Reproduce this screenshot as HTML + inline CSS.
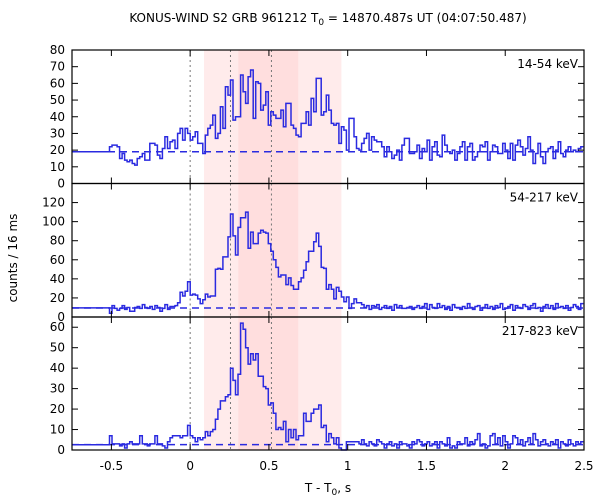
<!DOCTYPE html>
<html><head><meta charset="utf-8"><style>
body{margin:0;background:#fff}
svg{display:block;font-family:"DejaVu Sans","Liberation Sans",sans-serif;font-size:12px}
</style></head><body>
<svg id="chart" width="600" height="500"></svg>
<script>
const binStart = -0.512;
const binWidth = 0.016;
const xTicks = [-0.5, 0, 0.5, 1, 1.5, 2, 2.5];
const xTickLabels = ["-0.5", "0", "0.5", "1", "1.5", "2", "2.5"];
const bandsLight = [0.088, 0.96];
const bandsDark = [0.306, 0.686];
const markerTimes = [0, 0.256, 0.516];
const panelLabels = ["14-54 keV", "54-217 keV", "217-823 keV"];
const yMaxes = [80, 140, 65];
const yTicks1 = [0,10,20,30,40,50,60,70,80];
const yTicks2 = [0,20,40,60,80,100,120];
const yTicks3 = [0,10,20,30,40,50,60];
const backgrounds = [19, 9.5, 2.6];
const counts1 = [22,23,23,22,15,18,14,13,14,12,
11,15,16,18,14,14,24,24,23,17,
15,21,28,21,25,26,21,30,33,26,
33,30,26,28,31,24,24,18,29,33,
35,41,27,30,46,33,58,53,62,38,
40,40,65,55,48,64,68,39,61,60,
44,47,55,35,43,41,39,39,44,34,
48,48,35,33,29,28,36,36,43,35,
51,43,63,63,41,43,53,44,36,35,
36,24,34,32,20,39,39,28,21,20,
24,27,30,20,28,26,25,25,22,16,
22,19,15,17,20,14,23,27,27,18,
18,19,23,15,21,19,26,14,22,25,
17,16,29,23,19,18,20,14,18,22,
25,14,22,24,14,16,19,23,22,25,
14,19,23,22,18,18,24,20,15,24,
14,23,26,22,17,21,28,20,12,18,
24,16,12,19,21,22,15,20,25,18,
16,20,22,19,20,19,21,22];
const counts2 = [4,12,9,7,9,12,8,10,6,6,
10,11,9,13,10,9,11,8,12,10,
6,9,13,8,11,11,12,15,26,22,27,37,
23,24,23,19,14,18,24,21,22,22,
50,51,50,63,63,84,108,85,65,94,
104,104,110,72,89,77,77,88,91,89,
88,77,69,60,52,42,44,44,34,41,
33,29,29,37,41,49,58,69,69,79,
88,74,52,51,29,34,29,19,31,27,
21,16,21,9,14,19,15,15,
13,10,12,8,12,11,13,8,10,12,
9,11,7,13,10,12,9,9,10,11,
8,10,12,9,11,14,8,13,10,9,
14,10,12,8,11,7,13,10,10,8,
11,9,14,10,8,11,12,7,10,13,
9,11,8,12,10,14,8,9,11,13,
7,12,10,9,13,11,8,12,14,9,
10,6,11,13,9,12,8,14,10,11,
9,12,7,10,13,11,8,14];
const counts3 = [7,3,3,3,2,3,1,3,4,3,
3,3,7,3,3,2,3,3,7,3,
3,2,1,4,6,7,7,7,6,7,7,12,
7,6,4,6,5,6,9,7,9,10,
15,20,24,24,26,27,40,34,27,37,
62,59,50,42,47,44,47,36,36,31,
30,22,23,18,10,11,10,14,4,10,
6,10,5,7,7,18,14,14,18,20,
20,22,11,12,4,8,6,3,6,1,
0,0,4,4,4,4,4,3,
5,3,2,4,3,2,5,4,3,1,
3,4,2,3,1,4,3,3,2,1,
4,3,5,4,2,3,4,2,3,4,
1,4,3,2,6,1,2,1,4,3,
3,6,2,4,3,5,8,2,3,1,
2,7,8,3,6,2,7,4,1,3,
7,6,3,5,2,4,6,3,8,5,
2,4,5,3,2,4,3,5,1,4,
3,2,5,3,2,4,3,4];

const NS = "http://www.w3.org/2000/svg";
const svg = document.getElementById("chart");
const L = 72, R = 584, xMin = -0.75, xMax = 2.5;
const panels = [[50, 183.5], [183.5, 317], [317, 450]];
function X(t){ return L + (t - xMin) / (xMax - xMin) * (R - L); }
function el(tag, attrs, parent){ const e = document.createElementNS(NS, tag); for (const k in attrs) e.setAttribute(k, attrs[k]); (parent||svg).appendChild(e); return e; }

const allCounts = [counts1, counts2, counts3];
const allYTicks = [yTicks1, yTicks2, yTicks3];

panels.forEach(function(p, pi){
  const b1 = el("rect", {x: X(bandsLight[0]), y: p[0], width: X(bandsLight[1]) - X(bandsLight[0]), height: p[1]-p[0], fill: "#ffebeb"});
  
  
  const b2 = el("rect", {x: X(bandsDark[0]), y: p[0], width: X(bandsDark[1]) - X(bandsDark[0]), height: p[1]-p[0], fill: "#ffdede"});
  
  
});

panels.forEach(function(p, pi){
  const top = p[0], bot = p[1], ymax = yMaxes[pi];
  function Y(v){ return bot - v / ymax * (bot - top); }
  markerTimes.forEach(function(t){
    const ml = el("line", {x1: X(t), x2: X(t), y1: top, y2: bot, stroke: "#777", "stroke-width": 1, "stroke-dasharray": "2,3"});
    
    
  });
  const bg = el("line", {x1: L, x2: R, y1: Y(backgrounds[pi]), y2: Y(backgrounds[pi]), stroke: "#2a2ae0", "stroke-width": 1.5, "stroke-dasharray": "7,5"});
  
  
  const c = allCounts[pi];
  let d = "M" + L + "," + Y(backgrounds[pi]).toFixed(1) + " H" + X(binStart).toFixed(1);
  for (let i = 0; i < c.length; i++){
    const t0 = binStart + i * binWidth;
    const t1 = Math.min(t0 + binWidth, xMax);
    d += " V" + Y(c[i]).toFixed(1) + " H" + X(t1).toFixed(1);
  }
  const path = el("path", {d: d, fill: "none", stroke: "#2a2ae0", "stroke-width": 1.5});
  
  
  const fr = el("rect", {x: L, y: top, width: R-L, height: bot-top, fill: "none", stroke: "#000", "stroke-width": 1.2});
  
  
  allYTicks[pi].forEach(function(v){
    const y = Y(v);
    el("line", {x1: L, x2: L+6, y1: y, y2: y, stroke: "#000"});
    el("line", {x1: R-6, x2: R, y1: y, y2: y, stroke: "#000"});
    const tl = el("text", {x: L-7, y: y+4, "text-anchor": "end", fill: "#000"});
    tl.textContent = v;
    
    
  });
  xTicks.forEach(function(t){
    el("line", {x1: X(t), x2: X(t), y1: bot, y2: bot-6, stroke: "#000"});
    el("line", {x1: X(t), x2: X(t), y1: top, y2: top+6, stroke: "#000"});
  });
  const pl = el("text", {x: R-6, y: top+18, "text-anchor": "end", fill: "#000"});
  pl.textContent = panelLabels[pi];
  
  
});

xTicks.forEach(function(t, i){
  const tl = el("text", {x: X(t), y: 470, "text-anchor": "middle", fill: "#000"});
  tl.textContent = xTickLabels[i];
  
  
});

const title = el("text", {x: 328, y: 22, "text-anchor": "middle", fill: "#000"});


title.innerHTML = 'KONUS-WIND S2 GRB 961212 T<tspan font-size="9" dy="3">0</tspan><tspan dy="-3"> = 14870.487s UT (04:07:50.487)</tspan>';

const xl = el("text", {x: 328, y: 492, "text-anchor": "middle", fill: "#000"});


xl.innerHTML = 'T - T<tspan font-size="9" dy="3">0</tspan><tspan dy="-3">, s</tspan>';

const yl = el("text", {x: 0, y: 0, "text-anchor": "middle", fill: "#000", transform: "translate(17,258) rotate(-90)"});


yl.textContent = "counts / 16 ms";
</script>
</body></html>
